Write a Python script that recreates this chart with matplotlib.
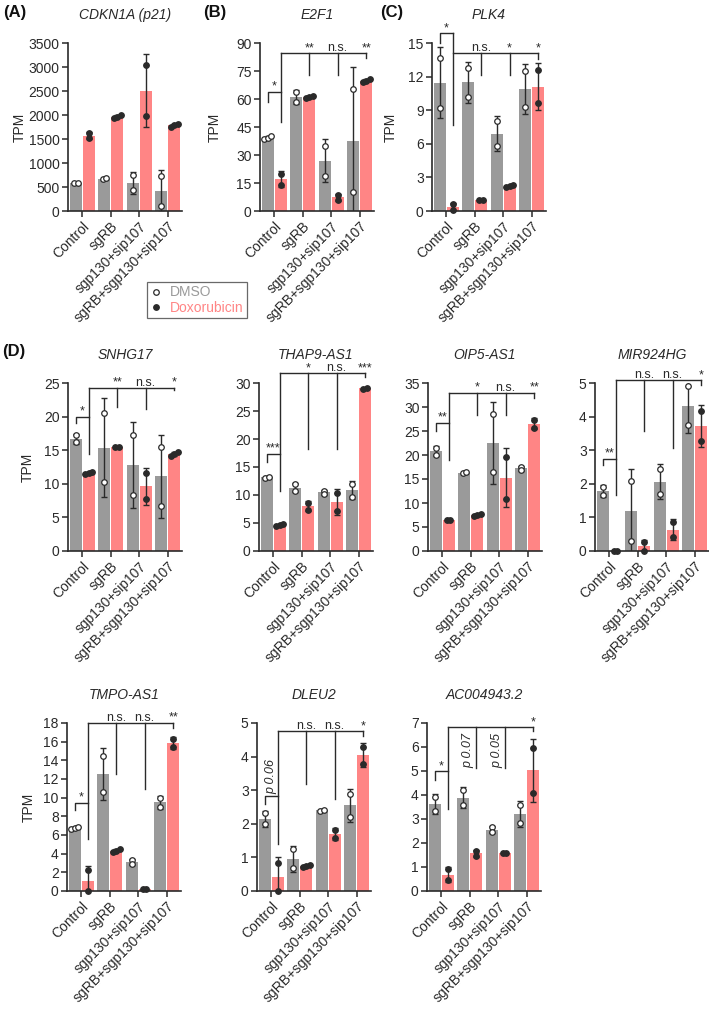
import numpy as np
import matplotlib
matplotlib.use("Agg")
import matplotlib.pyplot as plt
from matplotlib.lines import Line2D

plt.rcParams["font.family"] = ["Liberation Sans", "DejaVu Sans"]

groups = ["Control", "sgRB", "sgp130+sip107", "sgRB+sgp130+sip107"]

# replicate TPM values per group (DMSO / Doxorubicin)
cdkn1a_dmso = [[580, 585], [660, 690], [750, 430], [730, 100]]
cdkn1a_dox = [[1620, 1520], [1930, 1960, 1990], [3050, 1970], [1760, 1790, 1810]]

e2f1_dmso = [[38.5, 39.2, 40], [63.9, 58.5], [35, 19], [65.5, 10]]
e2f1_dox = [[20, 14], [60.5, 61, 61.5], [8.5, 6], [69, 69.7, 70.5]]

plk4_dmso = [[13.7, 9.2], [12.8, 10.2], [8.0, 5.8], [12.5, 9.3]]
plk4_dox = [[0.6, 0.05], [1.0, 1.02], [2.1, 2.2, 2.3], [12.6, 9.6]]

snhg17_dmso = [[17.2, 16.2], [20.6, 10.2], [17.3, 8.3], [15.5, 6.7]]
snhg17_dox = [[11.5, 11.6, 11.75], [15.5, 15.55], [11.6, 7.7], [14.2, 14.45, 14.7]]

thap9_dmso = [[13.1, 13.3], [11.9, 10.7], [10.8, 10.1], [12.0, 9.7]]
thap9_dox = [[4.5, 4.65, 4.8], [8.6, 7.4], [10.4, 7.1], [29.0, 29.15]]

oip5_dmso = [[21.5, 20.0], [16.2, 16.4], [28.6, 16.5], [17.6, 16.8]]
oip5_dox = [[6.5, 6.5], [7.3, 7.5, 7.7], [19.6, 10.9], [27.3, 25.7]]

mir924_dmso = [[1.9, 1.66], [2.08, 0.29], [2.44, 1.69], [4.9, 3.74]]
mir924_dox = [[0.01, 0.01], [0.28, 0.0], [0.86, 0.41], [4.16, 3.28]]

tmpo_dmso = [[6.65, 6.75, 6.85], [14.5, 10.6], [3.35, 2.9], [10.0, 9.0]]
tmpo_dox = [[2.2, 0.05], [4.15, 4.3, 4.45], [0.25, 0.25], [16.3, 15.4]]

dleu2_dmso = [[2.31, 1.98], [1.24, 0.69], [2.38, 2.42], [2.89, 2.2]]
dleu2_dox = [[0.84, 0.0], [0.72, 0.75, 0.78], [1.83, 1.58], [4.29, 3.79]]

ac_dmso = [[3.92, 3.33], [4.2, 3.58], [2.67, 2.45], [3.58, 2.82]]
ac_dox = [[0.9, 0.46], [1.67, 1.46], [1.58, 1.6], [5.96, 4.09]]

# significance labels: Control DMSO vs Dox, then each Dox vs Control Dox
e2f1_sig = ["*", "**", "n.s.", "**"]
plk4_sig = ["*", "n.s.", "*", "*"]
snhg17_sig = ["*", "**", "n.s.", "*"]
thap9_sig = ["***", "*", "n.s.", "***"]
oip5_sig = ["**", "*", "n.s.", "**"]
mir924_sig = ["**", "n.s.", "n.s.", "*"]
tmpo_sig = ["*", "n.s.", "n.s.", "**"]
dleu2_sig = ["p 0.06", "n.s.", "n.s.", "*"]
ac_sig = ["*", "p 0.07", "p 0.05", "*"]

GRAY = "#9a9a9a"
PINK = "#ff8585"
INK = "#2a2a2a"
FW, FH = 709, 1009

# panel: title, dmso, dox, ymax, ystep, sig, bracket geometry, left px, top px, ylabel offset px
# geometry = (small y, small left leg bottom, pink1 leg bottom, big y, [leg bottoms])
panels = [
    ("CDKN1A (p21)", cdkn1a_dmso, cdkn1a_dox, 3500, 500, None, None, 68, 43, 41),
    ("E2F1", e2f1_dmso, e2f1_dox, 90, 15, e2f1_sig,
     (63.9, 58.5, 47.8, 84.5, [72.9, 72.9, 82.0]), 260, 43, 38),
    ("PLK4", plk4_dmso, plk4_dox, 15, 3, plk4_sig,
     (15.86, 14.97, 7.7, 14.1, [12.1, 12.1, 13.6]), 432, 43, 34),
    ("SNHG17", snhg17_dmso, snhg17_dox, 25, 5, snhg17_sig,
     (20.0, 19.0, 14.5, 24.3, [21.4, 21.2, 23.9]), 68, 383, 33),
    ("THAP9-AS1", thap9_dmso, thap9_dox, 30, 5, thap9_sig,
     (17.4, 15.9, 10.8, 31.7, [18.3, 18.3, 31.1]), 259, 383, None),
    ("OIP5-AS1", oip5_dmso, oip5_dox, 35, 5, oip5_sig,
     (26.7, 25.0, 18.9, 33.0, [28.3, 28.3, 31.9]), 428, 383, None),
    ("MIR924HG", mir924_dmso, mir924_dox, 5, 1, mir924_sig,
     (2.75, 2.55, 1.66, 5.08, [3.57, 3.08, 4.93]), 595, 383, None),
    ("TMPO-AS1", tmpo_dmso, tmpo_dox, 18, 2, tmpo_sig,
     (9.45, 8.7, 5.6, 18.0, [12.5, 10.9, 17.5]), 67, 723, 31),
    ("DLEU2", dleu2_dmso, dleu2_dox, 5, 1, dleu2_sig,
     (2.84, 2.6, 1.39, 4.75, [3.19, 2.74, 4.6]), 257, 723, None),
    ("AC004943.2", ac_dmso, ac_dox, 7, 1, ac_sig,
     (4.99, 4.64, 3.4, 6.83, [5.13, 5.13, 6.65]), 427, 723, None),
]


def spread(vals, ymax, step=0.12):
    # place near-equal replicates side by side, others stacked
    vals = np.asarray(vals, float)
    order = np.argsort(vals)
    offs = np.zeros(len(vals))
    clusters = [[order[0]]]
    for k in order[1:]:
        if vals[k] - vals[clusters[-1][-1]] < 0.02 * ymax:
            clusters[-1].append(k)
        else:
            clusters.append([k])
    for c in clusters:
        for j, k in enumerate(c):
            offs[k] = (j - (len(c) - 1) / 2) * step
    return offs


fig = plt.figure(figsize=(FW / 100, FH / 100), dpi=100)

W, H = 114, 168
off = 0.225
bw = 0.42

for title, dmso, dox, ymax, ystep, sig, geo, left, top, ylab in panels:
    ax = fig.add_axes([left / FW, 1 - (top + H) / FH, W / FW, H / FH])
    x = np.arange(len(groups))
    for i in range(len(groups)):
        for pts, dx, col, fc in [(dmso[i], -off, GRAY, "white"), (dox[i], off, PINK, INK)]:
            pts = np.asarray(pts, float)
            m = pts.mean()
            sd = pts.std(ddof=1)
            ax.bar(x[i] + dx, m, bw, color=col, zorder=1, linewidth=0)
            ax.errorbar(x[i] + dx, m, yerr=sd, fmt="none", ecolor=INK,
                        elinewidth=1, capsize=2, capthick=1, zorder=2)
            ax.plot(x[i] + dx + spread(pts, ymax), pts, "o", mfc=fc, mec=INK,
                    ms=4, mew=0.9, zorder=3, clip_on=False)

    ax.set_xlim(-0.5, 3.5)
    ax.set_ylim(0, ymax)
    ax.set_yticks(np.arange(0, ymax + ystep / 2, ystep))
    ax.set_xticks(x)
    ax.set_xticklabels(groups, rotation=45, ha="right", rotation_mode="anchor")
    for s in ["top", "right"]:
        ax.spines[s].set_visible(False)
    for s in ["left", "bottom"]:
        ax.spines[s].set_linewidth(1.2)
        ax.spines[s].set_color(INK)
    ax.tick_params(length=4, width=1.1, color=INK, labelcolor=INK, labelsize=10, pad=2)
    ax.text(0.5, 1 + 28 / H, title, transform=ax.transAxes, ha="center",
            va="center", style="italic", fontsize=10, color=INK)
    if ylab is not None:
        ax.set_ylabel("TPM", fontsize=10, color=INK)
        ax.yaxis.set_label_coords(-ylab / W, 0.5)

    if geo is not None:
        h1, l1, r1, h2, legs = geo
        kw = dict(color=INK, lw=1, clip_on=False, zorder=4)
        g0, p0 = -off, off
        ax.plot([g0, g0, p0], [l1, h1, h1], **kw)
        ax.plot([p0, p0], [r1, max(h1, h2)], **kw)
        ax.plot([p0, 3 + off], [h2, h2], **kw)
        for j, b in enumerate(legs):
            ax.plot([j + 1 + off] * 2, [b, h2], **kw)
        # labels
        if sig[0].startswith("p "):
            ax.text(0, h1 + 0.01 * ymax, sig[0], rotation=90, ha="center", va="bottom",
                    style="italic", fontsize=9, color=INK, clip_on=False)
        else:
            ax.annotate(sig[0], (0, h1), xytext=(0, 1.5), textcoords="offset points",
                        ha="center", va="baseline", fontsize=9, color=INK,
                        annotation_clip=False)
        for j, lab in enumerate(sig[1:]):
            lx = j + 1 + off
            if lab.startswith("p "):
                ax.text(lx - 0.06, legs[j], lab, rotation=90, ha="right", va="bottom",
                        style="italic", fontsize=9, color=INK, clip_on=False)
            else:
                ax.annotate(lab, (lx, h2), xytext=(0, 1.5), textcoords="offset points",
                            ha="center", va="baseline", fontsize=9, color=INK,
                            annotation_clip=False)

# panel letters
for lab, px, py in [("(A)", 3, 12), ("(B)", 203, 12), ("(C)", 380, 12), ("(D)", 2, 351)]:
    fig.text(px / FW, 1 - py / FH, lab, ha="left", va="center", fontsize=12,
             fontweight="bold", color="#111111")

handles = [
    Line2D([], [], marker="o", ls="none", mfc="white", mec=INK, ms=4, mew=0.9),
    Line2D([], [], marker="o", ls="none", mfc=INK, mec=INK, ms=4, mew=0.9),
]
leg = fig.legend(handles, ["DMSO", "Doxorubicin"], loc="upper left",
                 bbox_to_anchor=(147 / FW, 1 - 282 / FH), fontsize=10, frameon=True,
                 fancybox=False, borderaxespad=0, handlelength=0.8, handletextpad=0.6,
                 borderpad=0.25, labelspacing=0.1)
leg.get_frame().set_edgecolor("#444444")
leg.get_frame().set_linewidth(0.9)
for t, c in zip(leg.get_texts(), [GRAY, PINK]):
    t.set_color(c)

fig.savefig("out.png", dpi=100)
